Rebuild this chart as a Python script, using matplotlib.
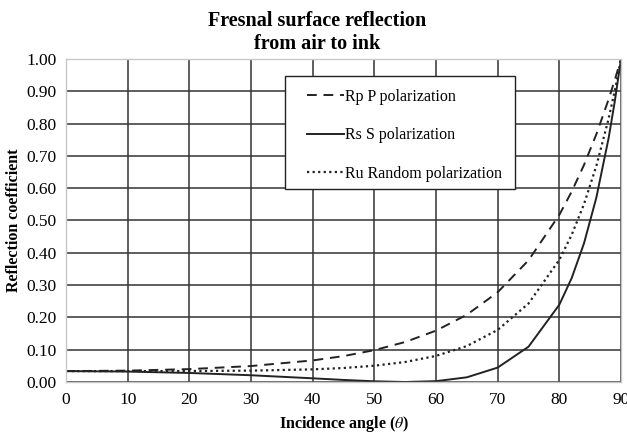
"""
Fresnel surface reflection from air to ink (n ~ 1.45):
p-, s- and random-polarisation reflection vs incidence angle.
"""

import matplotlib
matplotlib.use("Agg")
import matplotlib.pyplot as plt
from matplotlib.patches import Rectangle
from matplotlib.ticker import FormatStrFormatter, MultipleLocator

# ── data ──────────────────────────────────────────────────────────────────────
angle = [0, 10, 20, 30, 40, 45, 50, 55, 60, 65, 70, 75, 80, 82, 84, 86, 88, 89, 90]

rp_p = [0.0337, 0.0352, 0.0399, 0.0494, 0.0668, 0.0802, 0.0986, 0.1238, 0.1590,
        0.2082, 0.2778, 0.3767, 0.5176, 0.5894, 0.6720, 0.7668, 0.8755, 0.9357, 1.0]

# s-curve starts with a vertical jump at 0 deg
angle_s = [0] + angle
rs_s = [0.0, 0.0337, 0.0323, 0.0280, 0.0209, 0.0114, 0.0064, 0.0022, 0.0000, 0.0026,
        0.0145, 0.0446, 0.1092, 0.2393, 0.3216, 0.4293, 0.5706, 0.7559, 0.8696, 1.0]

ru_rand = [0.0337, 0.0338, 0.0340, 0.0352, 0.0391, 0.0433, 0.0504, 0.0619, 0.0808,
           0.1113, 0.1612, 0.2430, 0.3784, 0.4555, 0.5507, 0.6687, 0.8157, 0.9026, 1.0]

labels = ["Rp P polarization", "Rs S polarization", "Ru Random polarization"]

# ── figure ────────────────────────────────────────────────────────────────────
plt.rcParams["font.family"] = ["Liberation Serif", "DejaVu Serif"]
plt.rcParams["mathtext.fontset"] = "stix"

fig = plt.figure(figsize=(6.27, 4.34), dpi=100)
ax = fig.add_axes([66 / 627, 1 - 382 / 434, 555 / 627, 323 / 434])

ax.plot(angle, rp_p, color="#222222", lw=1.4, ls=(0, (5, 3.5)), label=labels[0])
ax.plot(angle_s, rs_s, color="#222222", lw=1.4, ls="-", label=labels[1])
ax.plot(angle, ru_rand, color="#222222", lw=1.6, ls=(0, (1, 1.5)), label=labels[2])

ax.set_xlim(0, 90)
ax.set_ylim(0, 1.0)
ax.xaxis.set_major_locator(MultipleLocator(10))
ax.yaxis.set_major_locator(MultipleLocator(0.1))
ax.yaxis.set_major_formatter(FormatStrFormatter("%.2f"))
ax.tick_params(length=0, labelsize=12.5, pad=7)
ax.grid(True, color="#333333", lw=1.1)
ax.set_axisbelow(True)
for s in ax.spines.values():
    s.set_color("#c8c8c8")
    s.set_linewidth(1.0)

ax.set_xlabel(r"Incidence angle ($\theta$)", fontsize=11.5, fontweight="bold", labelpad=4.5)
ax.set_ylabel("Reflection coefficient", fontsize=11.5, fontweight="bold", labelpad=3)

fig.text(0.505, 1 - 11 / 434, "Fresnal surface reflection\nfrom air to ink", ha="center",
         va="top", fontsize=14.5, fontweight="bold", linespacing=1.2)

# legend box drawn separately so the padding can be set freely
ax.add_patch(Rectangle((0.395, 0.598), 0.414, 0.349, transform=ax.transAxes,
                       facecolor="white", edgecolor="#222222", lw=1.0, zorder=4))
ax.legend(loc="upper left", bbox_to_anchor=(0.42, 0.932), fontsize=11.5,
          frameon=False, handlelength=2.3, handletextpad=0.1, labelspacing=1.4,
          borderpad=0.5, borderaxespad=0)

fig.savefig("out.png", dpi=100)
